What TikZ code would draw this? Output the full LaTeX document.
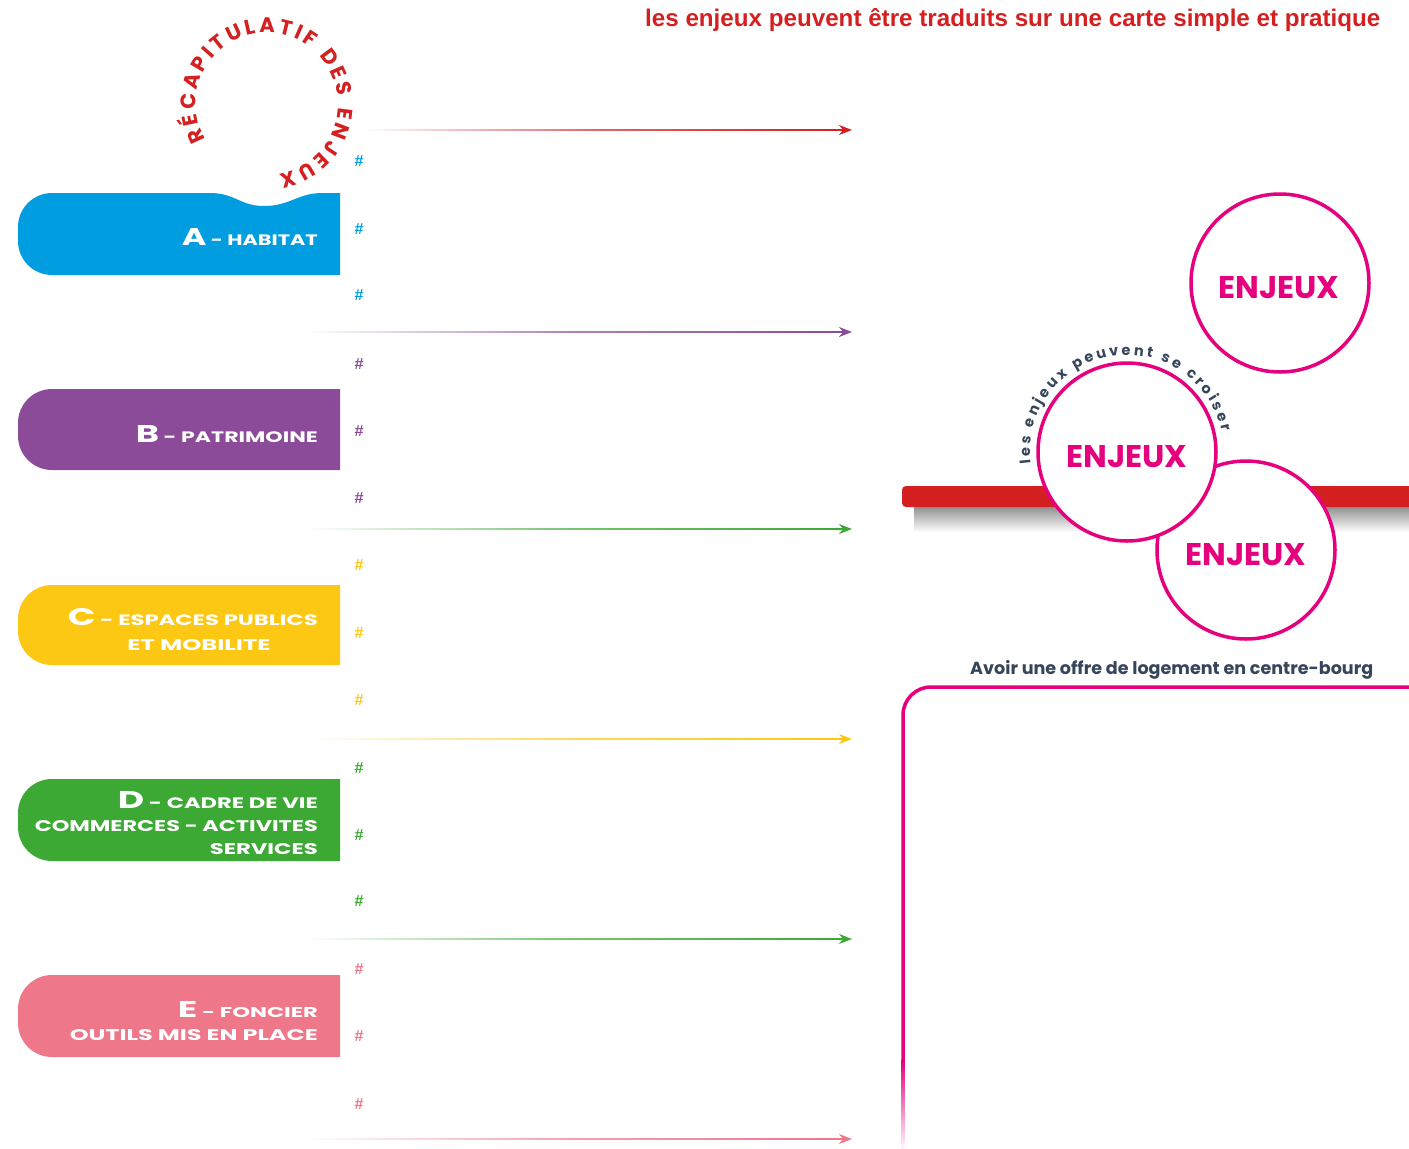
\documentclass[tikz,border=0pt]{standalone}
\usepackage{fontspec}
\usepackage{graphicx}
\usetikzlibrary{arrows.meta,decorations.text}
\newfontfamily\pop{Poppins}
\newfontfamily\lib{Liberation Sans}
\definecolor{cblue}{HTML}{009EE0}
\definecolor{cpurple}{HTML}{8C4B98}
\definecolor{cyellow}{HTML}{FCC814}
\definecolor{cgreen}{HTML}{3DA935}
\definecolor{cpink}{HTML}{EE7789}
\definecolor{cred}{HTML}{D42020}
\definecolor{cmag}{HTML}{E5007D}
\definecolor{cnavy}{HTML}{36455A}
\newcommand{\tabpath}[3]{%
  \fill[#1] (340,-#3) -- (52,-#3) arc[start angle=270,end angle=180,radius=34]
    -- (18,{-#2-34}) arc[start angle=180,end angle=90,radius=34] -- (340,-#2) -- cycle;}
\newcommand{\fadearrow}[4]{%
  \coordinate (#1s) at (#4,-#3);
  \coordinate (#1e) at (852,-#3);
  \shade[left color=white, right color=#2, middle color=#2!70] ([yshift=0.9pt]#1s) rectangle ([yshift=-0.9pt,xshift=-10pt]#1e);
  \draw[#2, arrowtip] ([xshift=-22pt]#1e) -- (#1e);}
\begin{document}
\begin{tikzpicture}[x=1pt,y=1pt,
  tabtext/.style={inner sep=0, text=white, font=\pop\bfseries},
  hashmark/.style={inner sep=0, font=\lib\bfseries\fontsize{16}{16}\selectfont},
  enj/.style={circle, draw=cmag, line width=3.5pt, fill=white, minimum size=178pt, inner sep=0},
  enjtext/.style={inner sep=0, text=cmag},
  arrowtip/.style={-{Stealth[length=13pt,width=10pt]}, line width=1.8pt}
]
\useasboundingbox (0,0) rectangle (1409,-1149);
\fill[white] (0,0) rectangle (1409,-1149);

% title
\node[anchor=base west, inner sep=0, text=cred] (title) at (645,-26)
  {\resizebox{735pt}{18pt}{\lib\bfseries les enjeux peuvent être traduits sur une carte simple et pratique}};

% tabs
\fill[cblue] (340,-275) -- (52,-275) arc[start angle=270,end angle=180,radius=34]
  -- (18,-227) arc[start angle=180,end angle=90,radius=34] -- (210,-193)
  .. controls (235,-193) and (240,-206) .. (264,-206)
  .. controls (290,-206) and (298,-193) .. (322,-193) -- (340,-193) -- cycle;
\tabpath{cpurple}{389}{470}
\tabpath{cyellow}{585}{665}
\tabpath{cgreen}{779}{861}
\tabpath{cpink}{975}{1057}

\node[tabtext, anchor=base east] (ta) at (318,-245)
  {\resizebox{136pt}{17pt}{\fontsize{24}{24}\selectfont A\fontsize{15}{15}\selectfont\ - HABITAT}};
\node[tabtext, anchor=base east] (tb) at (318,-442)
  {\resizebox{182pt}{17pt}{\fontsize{24}{24}\selectfont B\fontsize{15}{15}\selectfont\ - PATRIMOINE}};
\node[tabtext, anchor=base east] (tc1) at (318,-625)
  {\resizebox{250pt}{17pt}{\fontsize{24}{24}\selectfont C\fontsize{15}{15}\selectfont\ - ESPACES PUBLICS}};
\node[tabtext, anchor=base] (tc2) at (199,-650)
  {\resizebox{143pt}{11pt}{\fontsize{15}{15}\selectfont ET MOBILITE}};
\node[tabtext, anchor=base east] (td1) at (318,-808)
  {\resizebox{200pt}{17pt}{\fontsize{24}{24}\selectfont D\fontsize{15}{15}\selectfont\ - CADRE DE VIE}};
\node[tabtext, anchor=base east] (td2) at (318,-831)
  {\resizebox{283pt}{11pt}{\fontsize{15}{15}\selectfont COMMERCES - ACTIVITES}};
\node[tabtext, anchor=base east] (td3) at (318,-854)
  {\resizebox{108pt}{11pt}{\fontsize{15}{15}\selectfont SERVICES}};
\node[tabtext, anchor=base east] (te1) at (318,-1017)
  {\resizebox{140pt}{16pt}{\fontsize{24}{24}\selectfont E\fontsize{15}{15}\selectfont\ - FONCIER}};
\node[tabtext, anchor=base east] (te2) at (318,-1040)
  {\resizebox{248pt}{11pt}{\fontsize{15}{15}\selectfont OUTILS MIS EN PLACE}};

% circular title
\path[decorate, decoration={text along path, text align=fit to path, text color=cred,
   text={|\pop\bfseries\fontsize{21}{21}\selectfont|RÉCAPITULATIF DES ENJEUX}}]
  ([shift={(210:71)}]267,-104) arc[start angle=210, end angle=-80, radius=71];

% hash marks
\foreach \y [count=\i] in {161,229,295} \node[hashmark, text=cblue] (ha\i) at (359,-\y) {\#};
\foreach \y [count=\i] in {364,431,498} \node[hashmark, text=cpurple] (hb\i) at (359,-\y) {\#};
\foreach \y [count=\i] in {565,633,700} \node[hashmark, text=cyellow] (hc\i) at (359,-\y) {\#};
\foreach \y [count=\i] in {768,835,901} \node[hashmark, text=cgreen] (hd\i) at (359,-\y) {\#};
\foreach \y [count=\i] in {969,1036,1104} \node[hashmark, text=cpink] (he\i) at (359,-\y) {\#};

% arrows
\fadearrow{r1}{cred}{130}{362}
\fadearrow{r2}{cpurple}{332}{305}
\fadearrow{r3}{cgreen}{529}{305}
\fadearrow{r4}{cyellow}{739}{305}
\fadearrow{r5}{cgreen}{939}{305}
\fadearrow{r6}{cpink}{1139}{305}

% red bar with shadow
\shade[top color=black!50, bottom color=white] (914,-503) rectangle (1409,-532);
\fill[cred, rounded corners=4pt] (902,-486) rectangle (1416,-507);

% circles
\node[enj] (c3) at (1246,-550) {};
\node[enj] (c2) at (1127,-452) {};
\node[enj] (c1) at (1280,-283) {};
\node[enjtext] (t1) at (1279,-288) {\resizebox{121pt}{22pt}{\pop\bfseries ENJEUX}};
\node[enjtext] (t2) at (1127,-457) {\resizebox{121pt}{22pt}{\pop\bfseries ENJEUX}};
\node[enjtext] (t3) at (1246,-555) {\resizebox{121pt}{22pt}{\pop\bfseries ENJEUX}};

\path[decorate, decoration={text along path, text align=fit to path, text color=cnavy,
   text={|\pop\bfseries\fontsize{14.5}{14.5}\selectfont|les enjeux peuvent se croiser}}]
  ([shift={(187:97)}]1127,-452) arc[start angle=187, end angle=12, radius=97];

% caption and box
\node[anchor=base west, inner sep=0, text=cnavy] (cap) at (970,-674)
  {\resizebox{403pt}{14pt}{\pop\bfseries Avoir une offre de logement en centre-bourg}};
\draw[cmag, line width=3.5pt] (1414,-687) -- (931,-687) arc[start angle=90,end angle=180,radius=28] -- (903,-1060);
\foreach \k [evaluate=\k as \pc using {int(100-3.3*\k)}] in {0,...,29}
  \draw[cmag!\pc, line width=3.5pt] (903,{-1060-3*\k+0.3}) -- (903,{-1063-3*\k});
\end{tikzpicture}
\end{document}
